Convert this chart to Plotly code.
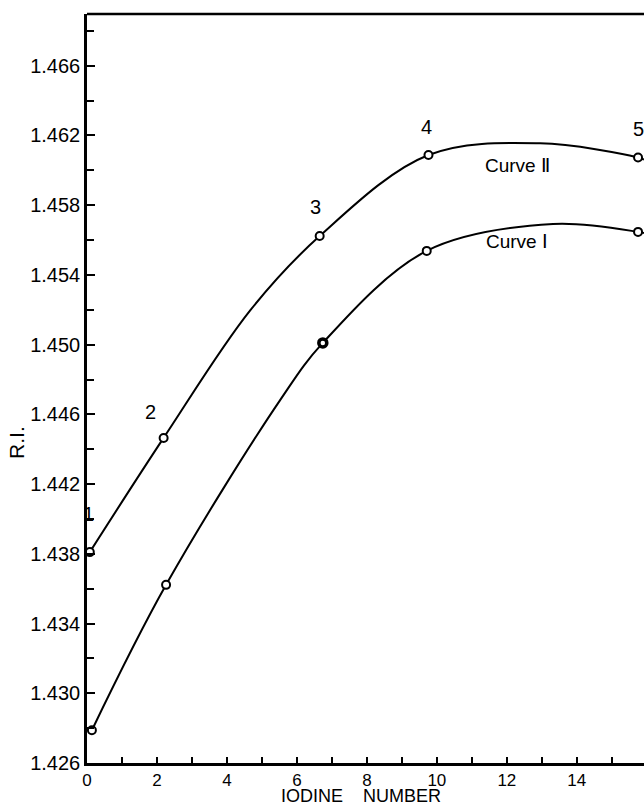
import plotly.graph_objects as go

# Measured points (open circles)
c2_pts_x = [0.08, 2.19, 6.65, 9.76, 15.75]
c2_pts_y = [1.4381, 1.44465, 1.45623, 1.46088, 1.46074]
c1_pts_x = [0.14, 2.26, 6.74, 9.71, 15.75]
c1_pts_y = [1.42788, 1.43622, 1.4501, 1.45538, 1.45647]

# Drawn smooth curves
c2_x = [0.08, 2.19, 4.67, 6.65, 9.76, 12.95, 15.75, 15.92]
c2_y = [1.4381, 1.44465, 1.45198, 1.45623, 1.46088, 1.46155, 1.46074, 1.46062]
c1_x = [0.14, 2.26, 5.52, 6.74, 9.71, 13.32, 15.75, 15.92]
c1_y = [1.42788, 1.43622, 1.44682, 1.4501, 1.45538, 1.45692, 1.45647, 1.45640]

pt_labels = ["1", "2", "3", "4", "5"]
pt_label_x = [0.05, 1.81, 6.52, 9.71, 15.75]
pt_label_y = [1.43953, 1.44538, 1.45715, 1.46174, 1.46164]

x_tickvals = [0, 2, 4, 6, 8, 10, 12, 14]
y_tickvals = [1.426, 1.430, 1.434, 1.438, 1.442, 1.446, 1.450, 1.454, 1.458, 1.462, 1.466]

FONT = "Liberation Sans"

fig = go.Figure()
for cx, cy in [(c2_x, c2_y), (c1_x, c1_y)]:
    fig.add_trace(go.Scatter(x=cx, y=cy, mode="lines",
                             line=dict(color="black", width=2, shape="spline", smoothing=1.0),
                             showlegend=False, hoverinfo="skip", cliponaxis=True))
for px, py, lw in [(c2_pts_x, c2_pts_y, [2, 2, 2, 2, 2]), (c1_pts_x, c1_pts_y, [2, 2, 3.5, 2, 2])]:
    fig.add_trace(go.Scatter(x=px, y=py, mode="markers",
                             marker=dict(symbol="circle", size=8, color="white",
                                         line=dict(color="black", width=lw)),
                             showlegend=False, cliponaxis=False))

for t, x, y in zip(pt_labels, pt_label_x, pt_label_y):
    fig.add_annotation(x=x, y=y, text=t, showarrow=False, xanchor="center", yanchor="bottom",
                       font=dict(family=FONT, size=20, color="black"))
fig.add_annotation(x=12.29, y=1.4603, text="Curve \u2161", showarrow=False,
                   font=dict(family=FONT, size=19, color="black"))
fig.add_annotation(x=12.29, y=1.4559, text="Curve \u2160", showarrow=False,
                   font=dict(family=FONT, size=19, color="black"))

fig.add_annotation(xref="paper", yref="paper", x=(361 - 87) / 557, y=-(796 - 762.7) / 748.7,
                   text="IODINE&nbsp;&nbsp;&nbsp;&nbsp;NUMBER", showarrow=False,
                   xanchor="center", yanchor="middle",
                   font=dict(family=FONT, size=18, color="black"))
fig.add_annotation(xref="paper", yref="paper", x=-0.128, y=(762.7 - 442) / 748.7,
                   text="R.I.", textangle=-90, showarrow=False,
                   xanchor="center", yanchor="middle",
                   font=dict(family=FONT, size=21, color="black"))

fig.update_xaxes(range=[0, 15.92], tickvals=x_tickvals, ticks="inside", ticklen=6,
                 tickwidth=2, tickcolor="black", showline=True, linecolor="black",
                 linewidth=2.5, mirror=False, showgrid=False, zeroline=False,
                 tickfont=dict(family=FONT, size=17, color="black"),
                 minor=dict(dtick=1, ticks="inside", ticklen=6, tickwidth=2, tickcolor="black"))
fig.update_yaxes(range=[1.426, 1.46897], tickvals=y_tickvals, ticktext=[f"{v:.3f}" for v in y_tickvals],
                 ticks="inside", ticklen=8, tickwidth=2, tickcolor="black",
                 showline=True, linecolor="black", linewidth=2.5, showgrid=False, zeroline=False,
                 tickfont=dict(family=FONT, size=20, color="black"),
                 minor=dict(tickvals=[1.428 + 0.004 * i for i in range(11)], ticks="inside",
                            ticklen=7, tickwidth=2, tickcolor="black"))
fig.add_shape(type="line", xref="paper", yref="paper", x0=0, x1=1, y0=1, y1=1,
              line=dict(color="black", width=2.5))

fig.update_layout(width=644, height=805, margin=dict(l=87, r=0, t=14, b=42),
                  plot_bgcolor="white", paper_bgcolor="white", showlegend=False)
fig.write_html("out.html", config={"displayModeBar": False},
               post_script="document.body.style.margin='0';document.body.style.overflow='hidden';")
